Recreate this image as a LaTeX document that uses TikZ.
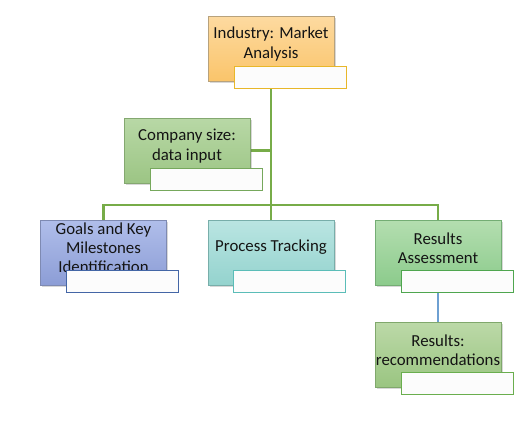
\documentclass[tikz,border=0pt]{standalone}
\usepackage{fontspec}
\setmainfont{Carlito}
\usetikzlibrary{shadows,backgrounds}
\definecolor{gcol}{RGB}{119,172,72}
\definecolor{bcol}{RGB}{110,160,210}
\tikzset{
  px/.style={x=0.75pt,y=-0.75pt},
  box/.style n args={3}{rectangle, draw=#1, line width=0.6pt, top color=#2, bottom color=#3,
     minimum width=94.5pt, minimum height=48.75pt, inner sep=0pt,
     drop shadow={shadow xshift=1.2pt, shadow yshift=-1.2pt, opacity=0.25, fill=black!60}},
  lbl/.style={rectangle, draw=#1, line width=0.7pt, fill=white!99!black, minimum width=84pt, minimum height=16.5pt, inner sep=0pt},
  txt/.style={font=\fontsize{12.6pt}{14.4pt}\selectfont, text=black!92, align=center, inner sep=0pt},
  gline/.style={draw=gcol, line width=1.6pt},
  bline/.style={draw=bcol, line width=1.3pt},
}
\definecolor{indtop}{HTML}{FDDAA0}\definecolor{indbot}{HTML}{FAC46A}\definecolor{indbd}{HTML}{B8A27C}\definecolor{indlb}{HTML}{E8B72A}
\definecolor{comtop}{HTML}{B8D8A6}\definecolor{combot}{HTML}{9CC584}\definecolor{combd}{HTML}{84A870}\definecolor{comlb}{HTML}{76A85C}
\definecolor{goatop}{HTML}{B0BEEA}\definecolor{goabot}{HTML}{8C9DD6}\definecolor{goabd}{HTML}{7E8AB2}\definecolor{goalb}{HTML}{4466A6}
\definecolor{protop}{HTML}{BAE5E2}\definecolor{probot}{HTML}{94D3CE}\definecolor{probd}{HTML}{78AEAA}\definecolor{prolb}{HTML}{5BBDB8}
\definecolor{restop}{HTML}{B4DEB0}\definecolor{resbot}{HTML}{8CCB8C}\definecolor{resbd}{HTML}{74AD74}\definecolor{reslb}{HTML}{4FA64F}
\definecolor{rectop}{HTML}{BCD9A8}\definecolor{recbot}{HTML}{9AC581}\definecolor{recbd}{HTML}{80A86C}\definecolor{reclb}{HTML}{6AAE4E}
\begin{document}
\begin{tikzpicture}[px]
\useasboundingbox (0,0) rectangle (529,433);
% boxes
\node[box={indbd}{indtop}{indbot}] (ind) at (271,49) {};
\node[box={combd}{comtop}{combot}] (com) at (187,150.5) {};
\node[box={goabd}{goatop}{goabot}] (goa) at (103.5,252.5) {};
\node[box={probd}{protop}{probot}] (pro) at (271,252.5) {};
\node[box={resbd}{restop}{resbot}] (res) at (438,252.5) {};
\node[box={recbd}{rectop}{recbot}] (rec) at (438,354.5) {};
% bus coordinates
\coordinate (busL) at (103.5,205);
\coordinate (busR) at (438,205);
% connectors behind the boxes
\begin{pgfonlayer}{background}
\fill[white] (0,0) rectangle (529,433);
\draw[gline] (ind.south) -- (pro.north);
\draw[gline] (com.east) -- (com.east -| ind.south);
\draw[gline] (goa.north) -- (busL) -- (busR) -- (res.north);
\draw[bline] (res.south) -- (rec.north);
\end{pgfonlayer}
% texts
\node[txt] (indt) at (271,44) {Industry: Market\\Analysis};
\node[txt] (comt) at (187,146) {Company size:\\data input};
\node[txt] (goat) at (103.5,248) {Goals and Key\\Milestones\\Identification};
\node[txt] (prot) at (271,247.5) {Process Tracking};
\node[txt] (rest) at (438,248) {Results\\Assessment};
\node[txt] (rect) at (438,350) {Results:\\recommendations};
% label boxes
\node[lbl=indlb] (indl) at (290,77) {};
\node[lbl=comlb] (coml) at (206,179) {};
\node[lbl=goalb] (goal) at (122,281) {};
\node[lbl=prolb] (prol) at (289.5,281) {};
\node[lbl=reslb] (resl) at (457,281) {};
\node[lbl=reclb] (recl) at (457,383) {};
\end{tikzpicture}
\end{document}
